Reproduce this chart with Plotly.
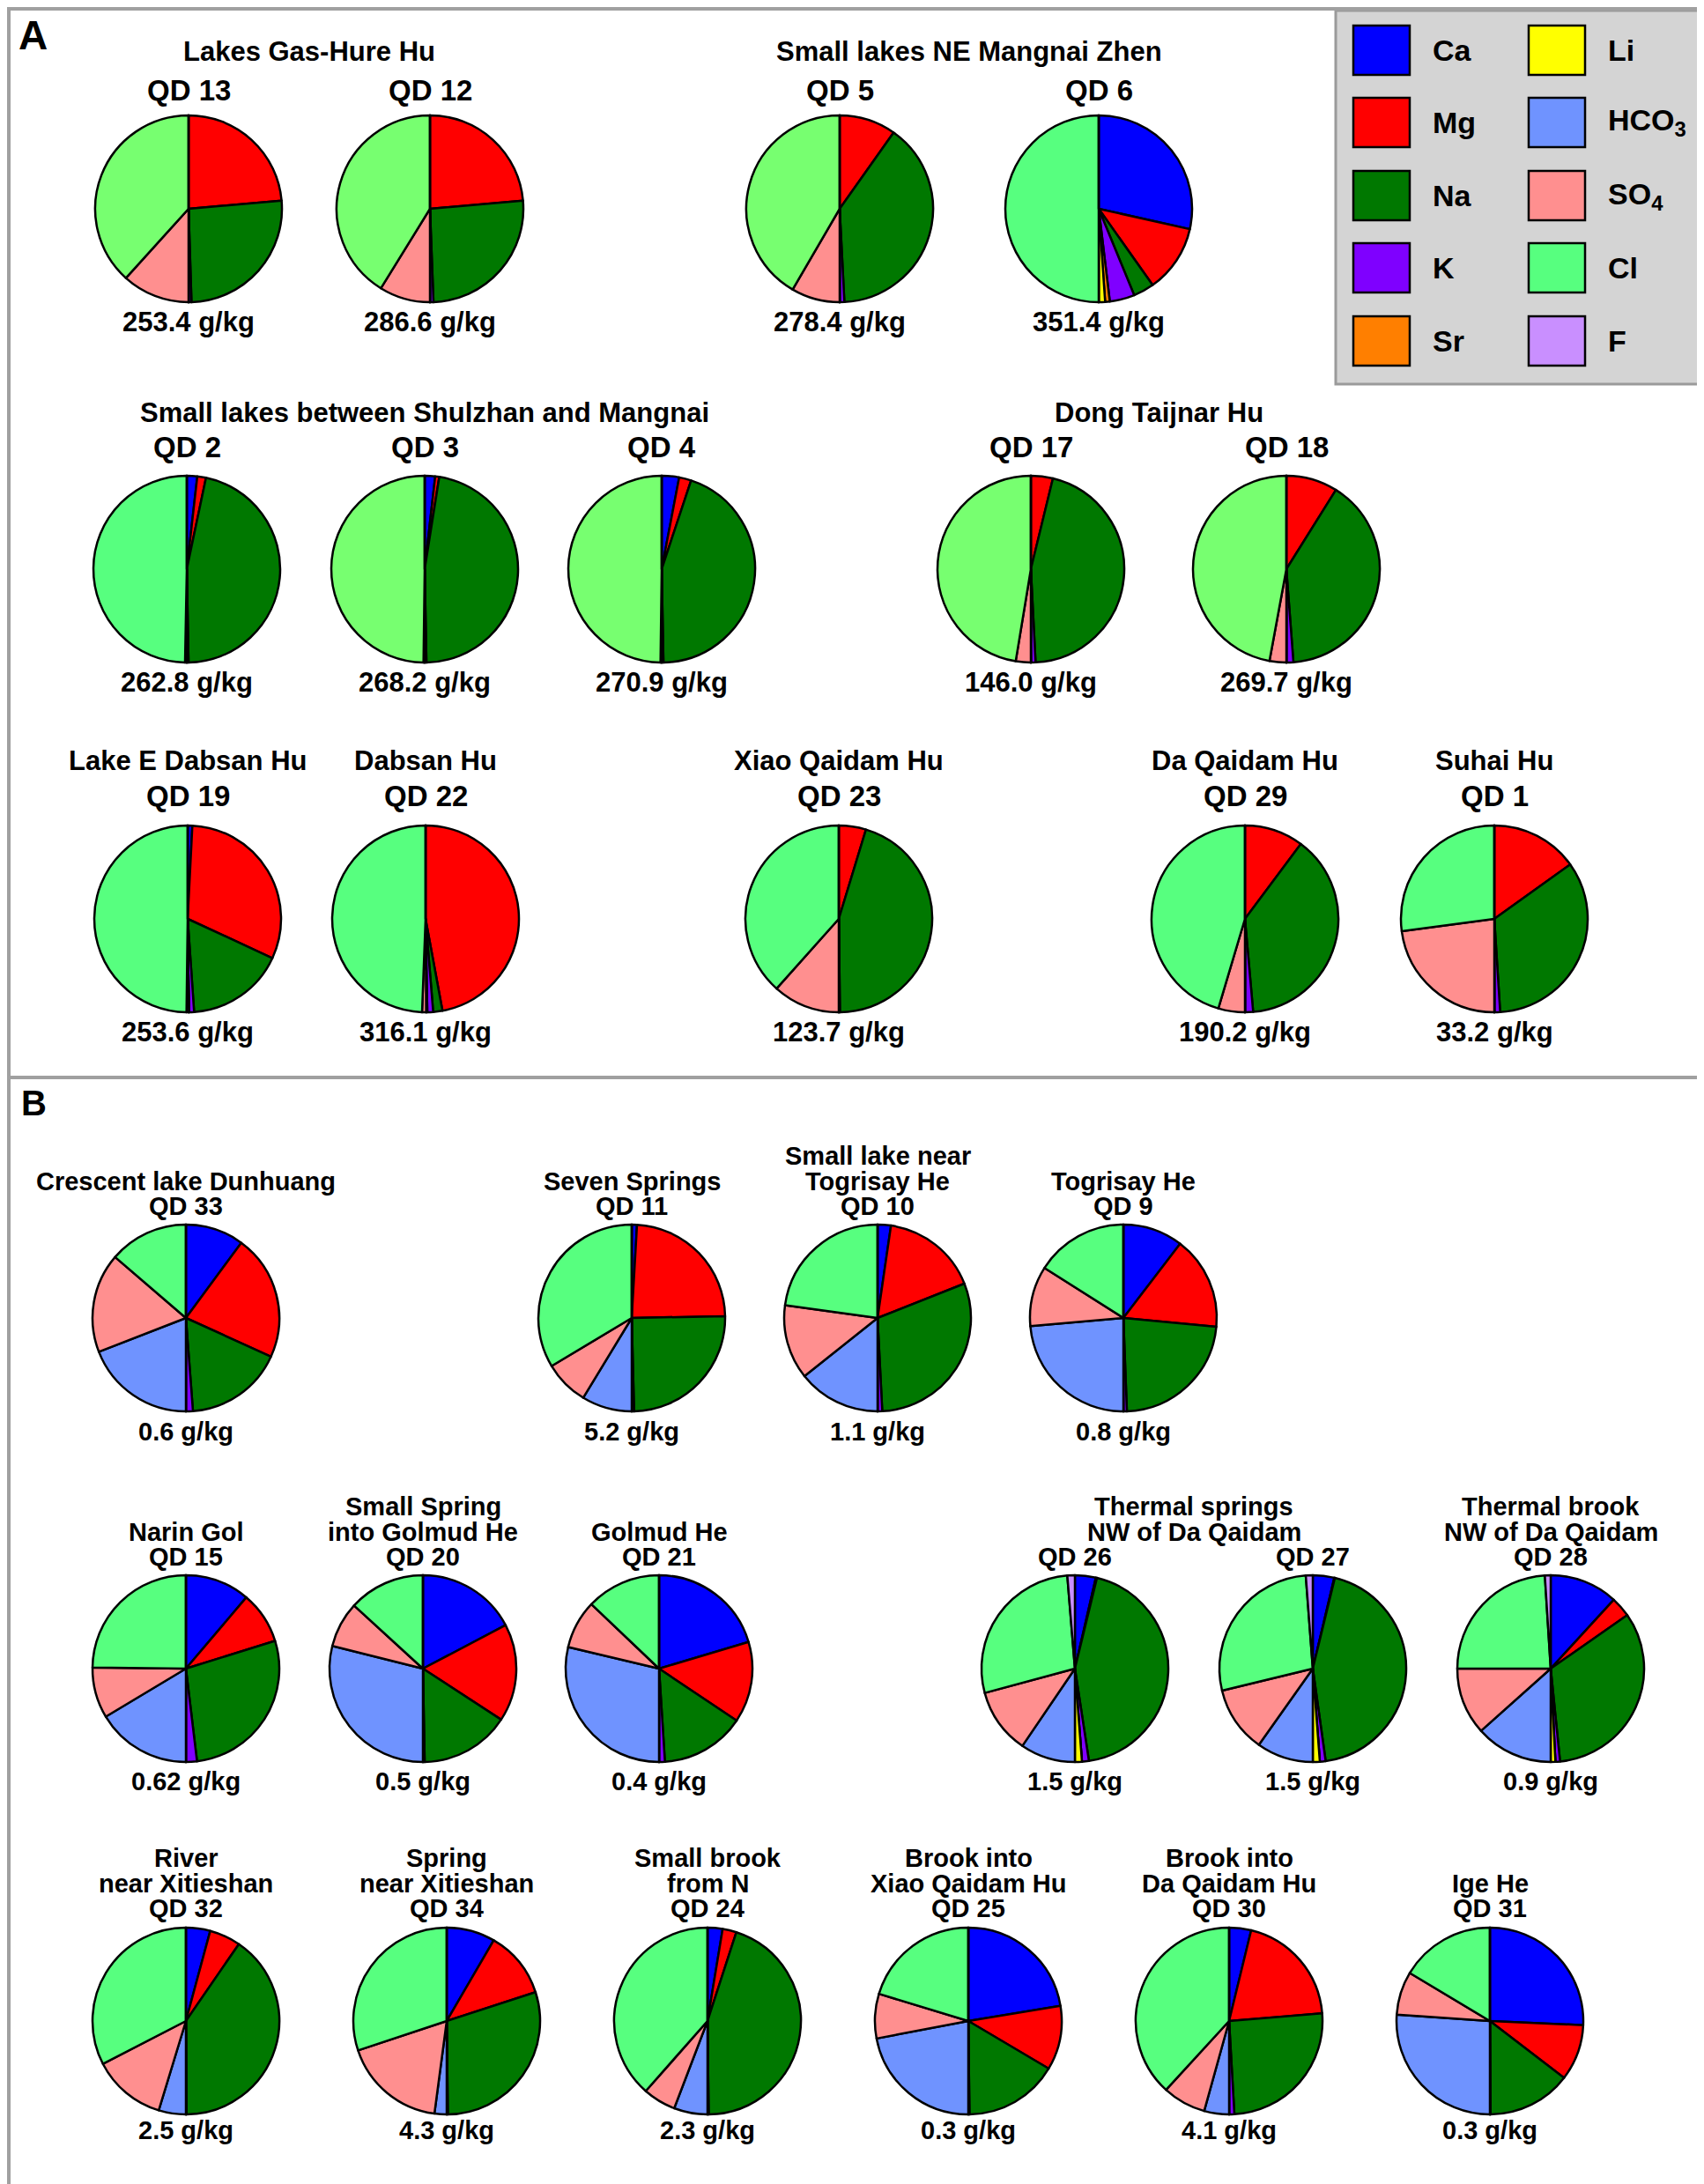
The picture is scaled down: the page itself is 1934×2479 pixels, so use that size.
import plotly.graph_objects as go

# **** Data: ion shares (%) of each sample, slices run clockwise from 12 o'clock
ions = ["Ca", "Mg", "Na", "K", "Sr", "Li", "HCO3", "SO4", "Cl", "F"]
ion_labels = ["Ca", "Mg", "Na", "K", "Sr", "Li", "HCO<sub>3</sub>", "SO<sub>4</sub>", "Cl", "F"]

samples = ["QD 13", "QD 12", "QD 5", "QD 6",
           "QD 2", "QD 3", "QD 4", "QD 17", "QD 18",
           "QD 19", "QD 22", "QD 23", "QD 29", "QD 1",
           "QD 33", "QD 11", "QD 10", "QD 9",
           "QD 15", "QD 20", "QD 21", "QD 26", "QD 27", "QD 28",
           "QD 32", "QD 34", "QD 24", "QD 25", "QD 30", "QD 31"]

salinity = ["253.4", "286.6", "278.4", "351.4",
            "262.8", "268.2", "270.9", "146.0", "269.7",
            "253.6", "316.1", "123.7", "190.2", "33.2",
            "0.6", "5.2", "1.1", "0.8",
            "0.62", "0.5", "0.4", "1.5", "1.5", "0.9",
            "2.5", "4.3", "2.3", "0.3", "4.1", "0.3"]

ca = [0, 0, 0, 28.5, 1.8, 1.8, 3.0, 0, 0, 0.8, 0, 0, 0, 0,
      10.1, 0.9, 2.3, 10.4, 11.2, 17.3, 20.4, 3.6, 3.7, 11.8,
      4.2, 8.4, 2.6, 22.4, 3.8, 25.7]
mg = [23.6, 23.6, 9.8, 11.7, 1.5, 0.7, 2.1, 3.8, 8.9, 31.1, 47.1, 4.7, 10.2, 15.1,
      21.7, 23.8, 16.7, 16.1, 9.0, 16.9, 14.0, 0.2, 0.1, 3.5,
      5.4, 11.6, 2.4, 11.1, 19.9, 9.7]
na = [25.9, 25.8, 39.4, 3.6, 46.4, 47.2, 44.6, 45.4, 39.9, 17.0, 1.6, 45.1, 38.4, 33.9,
      17.0, 24.9, 30.2, 22.9, 27.9, 15.5, 14.6, 43.8, 44.0, 33.1,
      40.3, 29.8, 44.8, 16.3, 25.4, 14.5]
k = [0.5, 0.6, 0.8, 4.3, 0.3, 0.3, 0.3, 0.8, 1.2, 0.9, 1.0, 0.2, 1.4, 1.0,
     1.2, 0.4, 0.8, 0.6, 1.9, 0.3, 1.0, 1.2, 1.0, 0.8,
     0.1, 0.2, 0.2, 0.2, 0.9, 0.1]
sr = [0, 0, 0, 0.8, 0, 0, 0, 0, 0, 0, 0.2, 0, 0, 0,
      0, 0, 0, 0, 0, 0, 0, 0, 0, 0,
      0, 0, 0, 0, 0, 0]
li = [0, 0, 0, 1.1, 0, 0, 0, 0, 0, 0, 0, 0, 0, 0,
      0, 0, 0, 0, 0, 0, 0, 1.2, 1.2, 0.8,
      0, 0, 0, 0, 0, 0]
hco3 = [0, 0, 0, 0, 0, 0, 0, 0, 0, 0, 0, 0, 0, 0,
        19.1, 8.7, 14.3, 23.6, 16.4, 28.9, 28.7, 9.5, 9.8, 13.4,
        4.7, 2.1, 5.8, 22.0, 4.3, 26.1]
so4 = [11.7, 8.8, 8.4, 0, 0.3, 0.2, 0.2, 2.6, 2.9, 0.4, 0.7, 11.6, 4.6, 22.9,
       17.2, 7.7, 12.9, 10.4, 8.8, 7.9, 8.4, 11.3, 11.4, 11.6,
       12.7, 17.8, 5.7, 7.7, 7.5, 7.5]
cl = [38.3, 41.2, 41.6, 50.0, 49.7, 49.8, 49.8, 47.4, 47.1, 49.8, 49.4, 38.4, 45.4, 27.1,
      13.7, 33.6, 22.8, 16.0, 24.8, 13.2, 12.9, 27.9, 27.6, 24.0,
      32.6, 30.1, 38.5, 20.3, 38.2, 16.4]
f = [0, 0, 0, 0, 0, 0, 0, 0, 0, 0, 0, 0, 0, 0,
     0, 0, 0, 0, 0, 0, 0, 1.3, 1.2, 1.0,
     0, 0, 0, 0, 0, 0]

# site names written above the sample code ("<br>" = new line)
site_names = ["", "", "", "",
              "", "", "", "", "",
              "Lake E Dabsan Hu", "Dabsan Hu", "Xiao Qaidam Hu", "Da Qaidam Hu", "Suhai Hu",
              "Crescent lake Dunhuang", "Seven Springs", "Small lake near<br>Togrisay He", "Togrisay He",
              "Narin Gol", "Small Spring<br>into Golmud He", "Golmud He", "", "", "Thermal brook<br>NW of Da Qaidam",
              "River<br>near Xitieshan", "Spring<br>near Xitieshan", "Small brook<br>from N",
              "Brook into<br>Xiao Qaidam Hu", "Brook into<br>Da Qaidam Hu", "Ige He"]

group_titles = ["Lakes Gas-Hure Hu", "Small lakes NE Mangnai Zhen",
                "Small lakes between Shulzhan and Mangnai", "Dong Taijnar Hu",
                "Thermal springs<br>NW of Da Qaidam"]
group_members = [["QD 13", "QD 12"], ["QD 5", "QD 6"],
                 ["QD 2", "QD 3", "QD 4"], ["QD 17", "QD 18"],
                 ["QD 26", "QD 27"]]

# **** Style / layout
W, H = 1934, 2479
R = 106
ion_colors = ["#0000FF", "#FF0000", "#007800", "#7F00FF", "#FF7F00",
              "#FFFF00", "#6F93FF", "#FF8F8F", "#57FF7F", "#C98FFF"]
light_cl_color = "#77FF70"
light_cl_samples = ["QD 13", "QD 12", "QD 5", "QD 3", "QD 4", "QD 17", "QD 18"]
font_family = "Arial, Liberation Sans, sans-serif"

# rows: sample codes, x centres, pie centre y, code y, salinity y, name line pitch, font sizes
rows = [
    dict(codes=["QD 13", "QD 12", "QD 5", "QD 6"], x=[206, 480, 945, 1239],
         pie_y=229, qd_y=95, tds_y=357, pitch=41, qd_size=33, tds_size=31, name_size=31, group_y=51),
    dict(codes=["QD 2", "QD 3", "QD 4", "QD 17", "QD 18"], x=[204, 474, 743, 1162, 1452],
         pie_y=638, qd_y=500, tds_y=766, pitch=41, qd_size=33, tds_size=31, name_size=31, group_y=460),
    dict(codes=["QD 19", "QD 22", "QD 23", "QD 29", "QD 1"], x=[205, 475, 944, 1405, 1688],
         pie_y=1035, qd_y=896, tds_y=1163, pitch=41, qd_size=33, tds_size=31, name_size=31, group_y=None),
    dict(codes=["QD 33", "QD 11", "QD 10", "QD 9"], x=[203, 709, 988, 1267],
         pie_y=1488, qd_y=1361, tds_y=1617, pitch=28.5, qd_size=29, tds_size=29, name_size=29, group_y=None),
    dict(codes=["QD 15", "QD 20", "QD 21", "QD 26", "QD 27", "QD 28"], x=[203, 472, 740, 1212, 1482, 1752],
         pie_y=1886, qd_y=1759, tds_y=2014, pitch=28.5, qd_size=29, tds_size=29, name_size=29, group_y=None),
    dict(codes=["QD 32", "QD 34", "QD 24", "QD 25", "QD 30", "QD 31"], x=[203, 499, 795, 1091, 1387, 1683],
         pie_y=2286, qd_y=2158, tds_y=2410, pitch=28.5, qd_size=29, tds_size=29, name_size=29, group_y=None),
]


def fx(x):
    return x / W


def fy(y):
    return 1 - y / H


def label(x, y, text, size, anchor="center"):
    return dict(x=fx(x), y=fy(y), xref="paper", yref="paper", text=text, showarrow=False,
                xanchor=anchor, yanchor="middle",
                font=dict(family=font_family, size=size, color="black", weight="bold"))


# **** RUN
fig = go.Figure()
annotations = []
shapes = []
positions = {}

for row in rows:
    for code, cx in zip(row["codes"], row["x"]):
        i = samples.index(code)
        positions[code] = (cx, row)
        values = [ca[i], mg[i], na[i], k[i], sr[i], li[i], hco3[i], so4[i], cl[i], f[i]]
        colors = list(ion_colors)
        if code in light_cl_samples:
            colors[8] = light_cl_color
        cy = row["pie_y"]
        fig.add_trace(go.Pie(
            values=values,
            labels=ions,
            sort=False,
            direction="clockwise",
            rotation=0,
            textinfo="none",
            marker=dict(colors=colors, line=dict(color="black", width=2.5)),
            domain=dict(x=[fx(cx - R), fx(cx + R)], y=[fy(cy + R), fy(cy - R)]),
            showlegend=False,
            name=code
        ))

        annotations.append(label(cx, row["qd_y"], code, row["qd_size"]))
        annotations.append(label(cx, row["tds_y"], salinity[i] + " g/kg", row["tds_size"]))
        if site_names[i]:
            lines = site_names[i].split("<br>")
            for j, line in enumerate(reversed(lines)):
                annotations.append(label(cx, row["qd_y"] - (j + 1) * row["pitch"], line, row["name_size"]))

# group titles centred over their pies
for title, members in zip(group_titles, group_members):
    xs = [positions[m][0] for m in members]
    row = positions[members[0]][1]
    cx = sum(xs) / len(xs)
    lines = title.split("<br>")
    if len(lines) == 1:
        annotations.append(label(cx, row["group_y"], title, row["name_size"]))
    else:
        for j, line in enumerate(lines):
            annotations.append(label(cx, row["qd_y"] - (len(lines) - j) * row["pitch"], line, row["name_size"]))

# panel letters
annotations.append(label(29, 32, "A", 46))
annotations.append(label(30, 1244, "B", 40))

# panel frames
border = "#A0A0A0"
shapes.append(dict(type="rect", xref="paper", yref="paper", x0=fx(2), x1=fx(1931), y0=fy(2), y1=fy(1215),
                   line=dict(color=border, width=4)))
shapes.append(dict(type="rect", xref="paper", yref="paper", x0=fx(2), x1=fx(1931), y0=fy(1215), y1=fy(2477),
                   line=dict(color=border, width=4)))

# legend box (two columns of five)
shapes.append(dict(type="rect", xref="paper", yref="paper", x0=fx(1508), x1=fx(1925), y0=fy(4), y1=fy(428),
                   fillcolor="#D4D4D4", line=dict(color="#9A9A9A", width=3), layer="below"))
legend_row_y = [49, 131, 214, 296, 379]
legend_col_x = [1528, 1727]
for n, ion in enumerate(ions):
    col = n // 5
    r = n % 5
    x0 = legend_col_x[col]
    yc = legend_row_y[r]
    shapes.append(dict(type="rect", xref="paper", yref="paper",
                       x0=fx(x0), x1=fx(x0 + 64), y0=fy(yc + 28), y1=fy(yc - 28),
                       fillcolor=ion_colors[n], line=dict(color="black", width=2.5)))
    annotations.append(label(x0 + 88, yc, ion_labels[n], 34, anchor="left"))

fig.update_layout(
    width=W,
    height=H,
    margin=dict(l=0, r=0, t=0, b=0),
    paper_bgcolor="white",
    plot_bgcolor="white",
    showlegend=False,
    annotations=annotations,
    shapes=shapes,
)

fig.write_html("out.html")
